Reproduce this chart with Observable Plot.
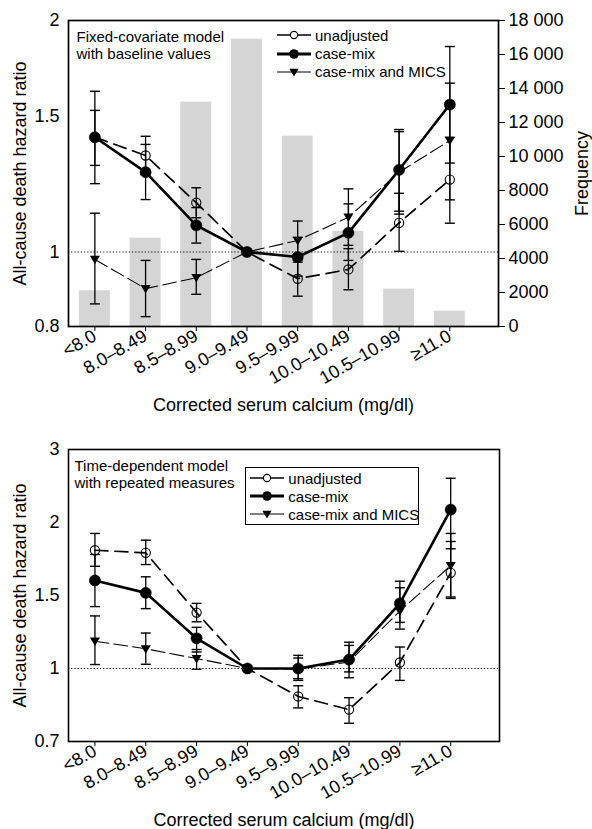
<!DOCTYPE html>
<html>
<head>
<meta charset="utf-8">
<script src="https://cdn.jsdelivr.net/npm/d3@7"></script>
<script src="https://cdn.jsdelivr.net/npm/@observablehq/plot@0.6"></script>
<style>
  html, body { margin: 0; padding: 0; background: #fff; }
  #wrap { position: relative; width: 592px; height: 829px; overflow: hidden; font-family: "Liberation Sans", Arial, sans-serif; }
  .layer { position: absolute; left: 0; }
  .layer svg { display: block; }
</style>
</head>
<body>
<div id="wrap"></div>
<script>
// ---------------- DATA ----------------
const categories = ["<8.0", "8.0–8.49", "8.5–8.99", "9.0–9.49", "9.5–9.99", "10.0–10.49", "10.5–10.99", "≥11.0"];
const frequency = [2100, 5200, 13200, 16900, 11200, 5600, 2200, 900];
const seriesNames = ["unadjusted", "case-mix", "case-mix and MICS"];

// Fixed-covariate model with baseline values (hazard ratio, 95% CI)
const fixedUnadjHR = [1.41, 1.335, 1.159, 1, 0.923, 0.949, 1.091, 1.242];
const fixedUnadjLo = [1.296, 1.26, 1.108, null, 0.876, 0.893, 1.002, 1.09];
const fixedUnadjHi = [1.528, 1.414, 1.212, null, 0.970, 1.01, 1.192, 1.41];
const fixedCaseHR = [1.41, 1.270, 1.083, 1, 0.985, 1.059, 1.279, 1.555];
const fixedCaseLo = [1.227, 1.170, 1.027, null, 0.93, 0.975, 1.12, 1.305];
const fixedCaseHi = [1.618, 1.380, 1.142, null, 1.045, 1.155, 1.443, 1.850];
const fixedMicsHR = [0.978, 0.896, 0.926, 1, 1.035, 1.110, 1.27, 1.396];
const fixedMicsLo = [0.856, 0.824, 0.881, null, 0.976, 1.02, 1.13, 1.169];
const fixedMicsHi = [1.123, 0.975, 0.978, null, 1.097, 1.208, 1.434, 1.658];

// Time-dependent model with repeated measures
const timeUnadjHR = [1.810, 1.792, 1.383, 1, 0.885, 0.831, 1.041, 1.655];
const timeUnadjLo = [1.70, 1.712, 1.32, null, 0.838, 0.775, 0.951, 1.48];
const timeUnadjHi = [1.925, 1.879, 1.446, null, 0.929, 0.880, 1.147, 1.87];
const timeCaseHR = [1.603, 1.518, 1.207, 1, 1.0, 1.061, 1.446, 2.176];
const timeCaseLo = [1.424, 1.410, 1.113, null, 0.958, 0.986, 1.316, 1.82];
const timeCaseHi = [1.781, 1.628, 1.282, null, 1.072, 1.158, 1.598, 2.606];
const timeMicsHR = [1.187, 1.135, 1.068, 1, 0.997, 1.045, 1.394, 1.705];
const timeMicsLo = [1.027, 1.029, 0.997, null, 0.951, 0.962, 1.27, 1.49];
const timeMicsHi = [1.360, 1.243, 1.13, null, 1.09, 1.18, 1.553, 1.925];

const topYTicks = [0.8, 1, 1.5, 2];
const bottomYTicks = [0.7, 1, 1.5, 2, 3];
const freqTicks = [0, 2000, 4000, 6000, 8000, 10000, 12000, 14000, 16000, 18000];

// ---------------- TABLES ----------------
function rows(series, hr, lo, hi) {
  return hr.map((v, i) => ({i, cat: categories[i], series, hr: v, lo: lo[i], hi: hi[i]}));
}
const fixedData = [
  rows("unadjusted", fixedUnadjHR, fixedUnadjLo, fixedUnadjHi),
  rows("case-mix", fixedCaseHR, fixedCaseLo, fixedCaseHi),
  rows("case-mix and MICS", fixedMicsHR, fixedMicsLo, fixedMicsHi)
];
const timeData = [
  rows("unadjusted", timeUnadjHR, timeUnadjLo, timeUnadjHi),
  rows("case-mix", timeCaseHR, timeCaseLo, timeCaseHi),
  rows("case-mix and MICS", timeMicsHR, timeMicsLo, timeMicsHi)
];
const barData = frequency.map((f, i) => ({i, cat: categories[i], freq: f}));

// ---------------- STYLES ----------------
const FONT = '"Liberation Sans", Arial, Helvetica, sans-serif';
const baseStyle = {fontFamily: FONT, fontSize: "18px", background: "transparent", color: "black"};
const W = 592;
const xDomain = [-0.52, 7.96];

const triangleDown = {draw(ctx, size) { const r = Math.sqrt(size / Math.PI); ctx.moveTo(-r, -r * 0.72); ctx.lineTo(r, -r * 0.72); ctx.lineTo(0, r * 0.98); ctx.closePath(); }};
const capSymbol = {draw(ctx, size) { const r = Math.sqrt(size / Math.PI); ctx.moveTo(-r, 0); ctx.lineTo(r, 0); }};

const seriesStyle = {
  "unadjusted": {lineWidth: 1.7, dash: "13,7", legendWidth: 1.4, marker: {r: 4.6, fill: "none", stroke: "black", strokeWidth: 1.1}, legendR: 3.6},
  "case-mix": {lineWidth: 2.6, dash: null, legendWidth: 3, marker: {r: 5.6, fill: "black", stroke: "black", strokeWidth: 0.5}, legendR: 4.8},
  "case-mix and MICS": {lineWidth: 1.1, dash: "14,5", legendWidth: 1.1, marker: {r: 5, fill: "black", stroke: "none", symbol: triangleDown}, legendR: 4.6}
};

function seriesMarks(tables, yAcc) {
  const lines = [], bars = [], caps = [], dots = [];
  tables.forEach(t => {
    const s = seriesStyle[t[0].series];
    lines.push(Plot.line(t, {x: "i", y: yAcc("hr"), stroke: "black", strokeWidth: s.lineWidth, strokeDasharray: s.dash || undefined, strokeLinejoin: "round"}));
    const ci = t.filter(d => d.lo != null);
    bars.push(Plot.ruleX(ci, {x: "i", y1: yAcc("lo"), y2: yAcc("hi"), stroke: "black", strokeWidth: 1.3}));
    caps.push(Plot.dot(ci, {x: "i", y: yAcc("lo"), symbol: capSymbol, r: 5, stroke: "black", fill: "none", strokeWidth: 1.4}));
    caps.push(Plot.dot(ci, {x: "i", y: yAcc("hi"), symbol: capSymbol, r: 5, stroke: "black", fill: "none", strokeWidth: 1.4}));
    dots.push(Plot.dot(t, {x: "i", y: yAcc("hr"), ...s.marker}));
  });
  return [...lines, ...bars, ...caps, ...dots];
}

function legend(parent, opt) {
  const box = document.createElement("div");
  box.style.cssText = `position:absolute;left:${opt.left}px;top:${opt.top}px;font:15px ${FONT};color:black;box-sizing:border-box;` +
    (opt.box ? `border:1px solid black;background:white;width:${opt.width}px;height:${opt.height}px;padding:${opt.padTop}px 0 0 ${opt.padLeft}px;` : "");
  seriesNames.forEach(name => {
    const s = seriesStyle[name];
    const row = document.createElement("div");
    row.style.cssText = `display:flex;align-items:center;height:${opt.rowH}px;white-space:nowrap;`;
    const svg = d3.create("svg").attr("width", opt.symW).attr("height", 14).style("flex", "none").style("margin-right", opt.gap + "px");
    svg.append("line").attr("x1", 0).attr("x2", opt.symW).attr("y1", 7).attr("y2", 7).attr("stroke", "black").attr("stroke-width", s.legendWidth);
    if (name === "unadjusted") {
      svg.append("circle").attr("cx", opt.symW / 2).attr("cy", 7).attr("r", s.legendR).attr("fill", "white").attr("stroke", "black").attr("stroke-width", 1.1);
    } else if (name === "case-mix") {
      svg.append("circle").attr("cx", opt.symW / 2).attr("cy", 7).attr("r", s.legendR).attr("fill", "black");
    } else {
      svg.append("path").attr("transform", `translate(${opt.symW / 2},7)`).attr("d", d3.symbol(triangleDown, Math.PI * s.legendR * s.legendR)()).attr("fill", "black");
    }
    row.appendChild(svg.node());
    const span = document.createElement("span");
    span.textContent = name;
    row.appendChild(span);
    box.appendChild(row);
  });
  parent.appendChild(box);
}

const wrap = document.getElementById("wrap");
const xAxisTitle = (dy) => Plot.text(["Corrected serum calcium (mg/dl)"], {text: d => d, frameAnchor: "bottom", textAnchor: "middle", lineAnchor: "middle", dy, fontSize: 18});
const yAxisTitle = () => Plot.text(["All-cause death hazard ratio"], {text: d => d, frameAnchor: "left", textAnchor: "middle", lineAnchor: "middle", dx: -48, rotate: -90, fontSize: 18});

// ---------------- TOP PANEL ----------------
const topH = 430;
const topMargins = {marginTop: 20, marginBottom: 104, marginLeft: 68, marginRight: 94};

const barPlot = Plot.plot({
  width: W, height: topH, ...topMargins,
  style: baseStyle,
  x: {type: "linear", domain: xDomain, axis: null},
  y: {domain: [0, 18000], axis: "right", ticks: freqTicks, tickFormat: d => d >= 10000 ? d3.format(",")(d).replace(",", " ") : String(d), tickSize: 6, tickPadding: 4, label: null},
  marks: [
    Plot.rectY(barData, {x1: d => d.i - 0.305, x2: d => d.i + 0.305, y: "freq", fill: "#d5d5d5"}),
    Plot.text(["Frequency"], {text: d => d, frameAnchor: "right", textAnchor: "middle", lineAnchor: "middle", dx: 84, rotate: -90, fontSize: 18})
  ]
});

// log-scaled hazard ratio axis (natural log of the ratio on a linear scale)
const yTop = k => d => Math.log(d[k]);
const topPlot = Plot.plot({
  width: W, height: topH, ...topMargins,
  style: baseStyle,
  x: {type: "linear", domain: xDomain, ticks: d3.range(categories.length), tickFormat: i => categories[i], tickRotate: -30, tickSize: 5, tickPadding: 3, label: null},
  y: {type: "linear", domain: [Math.log(topYTicks[0]), Math.log(topYTicks[topYTicks.length - 1])], ticks: topYTicks.map(Math.log), tickFormat: (v, i) => String(topYTicks[i]), tickSize: 0, tickPadding: 9, label: null},
  marks: [
    Plot.ruleY([1], {y: v => Math.log(v), stroke: "black", strokeWidth: 1.1, strokeDasharray: "1.2,2"}),
    ...seriesMarks(fixedData, yTop),
    Plot.frame({stroke: "black", strokeWidth: 1.7}),
    Plot.text(["Fixed-covariate model\nwith baseline values"], {text: d => d, frameAnchor: "top-left", textAnchor: "start", lineAnchor: "top", dx: 8, dy: 9, fontSize: 15, lineHeight: 1.16}),
    xAxisTitle(79),
    yAxisTitle()
  ]
});

const topLayer = document.createElement("div");
topLayer.className = "layer";
topLayer.style.cssText = `top:0;width:${W}px;height:${topH}px;`;
const l1 = document.createElement("div"); l1.className = "layer"; l1.style.top = "0px"; l1.appendChild(barPlot);
const l2 = document.createElement("div"); l2.className = "layer"; l2.style.top = "0px"; l2.appendChild(topPlot);
topLayer.appendChild(l1); topLayer.appendChild(l2);
legend(topLayer, {left: 277, top: 26, rowH: 18.35, symW: 34, gap: 4, box: false});
wrap.appendChild(topLayer);

// ---------------- BOTTOM PANEL ----------------
const botTop = 430, botH = 399;
const piece = d3.scaleLinear().domain(bottomYTicks).range(d3.range(bottomYTicks.length));
const yBot = k => d => piece(d[k]);
const botPlot = Plot.plot({
  width: W, height: botH, marginTop: 19, marginBottom: 88, marginLeft: 68, marginRight: 93,
  style: baseStyle,
  x: {type: "linear", domain: xDomain, ticks: d3.range(categories.length), tickFormat: i => categories[i], tickRotate: -30, tickSize: 5, tickPadding: 3, label: null},
  y: {type: "linear", domain: [0, bottomYTicks.length - 1], ticks: d3.range(bottomYTicks.length), tickFormat: i => String(bottomYTicks[i]), tickSize: 0, tickPadding: 9, label: null},
  marks: [
    Plot.ruleY([1], {y: v => piece(v), stroke: "black", strokeWidth: 1.1, strokeDasharray: "1.2,2"}),
    ...seriesMarks(timeData, yBot),
    Plot.frame({stroke: "black", strokeWidth: 1.6}),
    Plot.text(["Time-dependent model\nwith repeated measures"], {text: d => d, frameAnchor: "top-left", textAnchor: "start", lineAnchor: "top", dx: 6, dy: 9, fontSize: 15, lineHeight: 1.16}),
    xAxisTitle(79),
    yAxisTitle()
  ]
});
const botLayer = document.createElement("div");
botLayer.className = "layer";
botLayer.style.cssText = `top:${botTop}px;width:${W}px;height:${botH}px;`;
botLayer.appendChild(botPlot);
legend(botLayer, {left: 245, top: 37.3, rowH: 18, symW: 34, gap: 4.3, box: true, width: 174.3, height: 57.7, padTop: 1.1, padLeft: 4});
wrap.appendChild(botLayer);
</script>
</body>
</html>
